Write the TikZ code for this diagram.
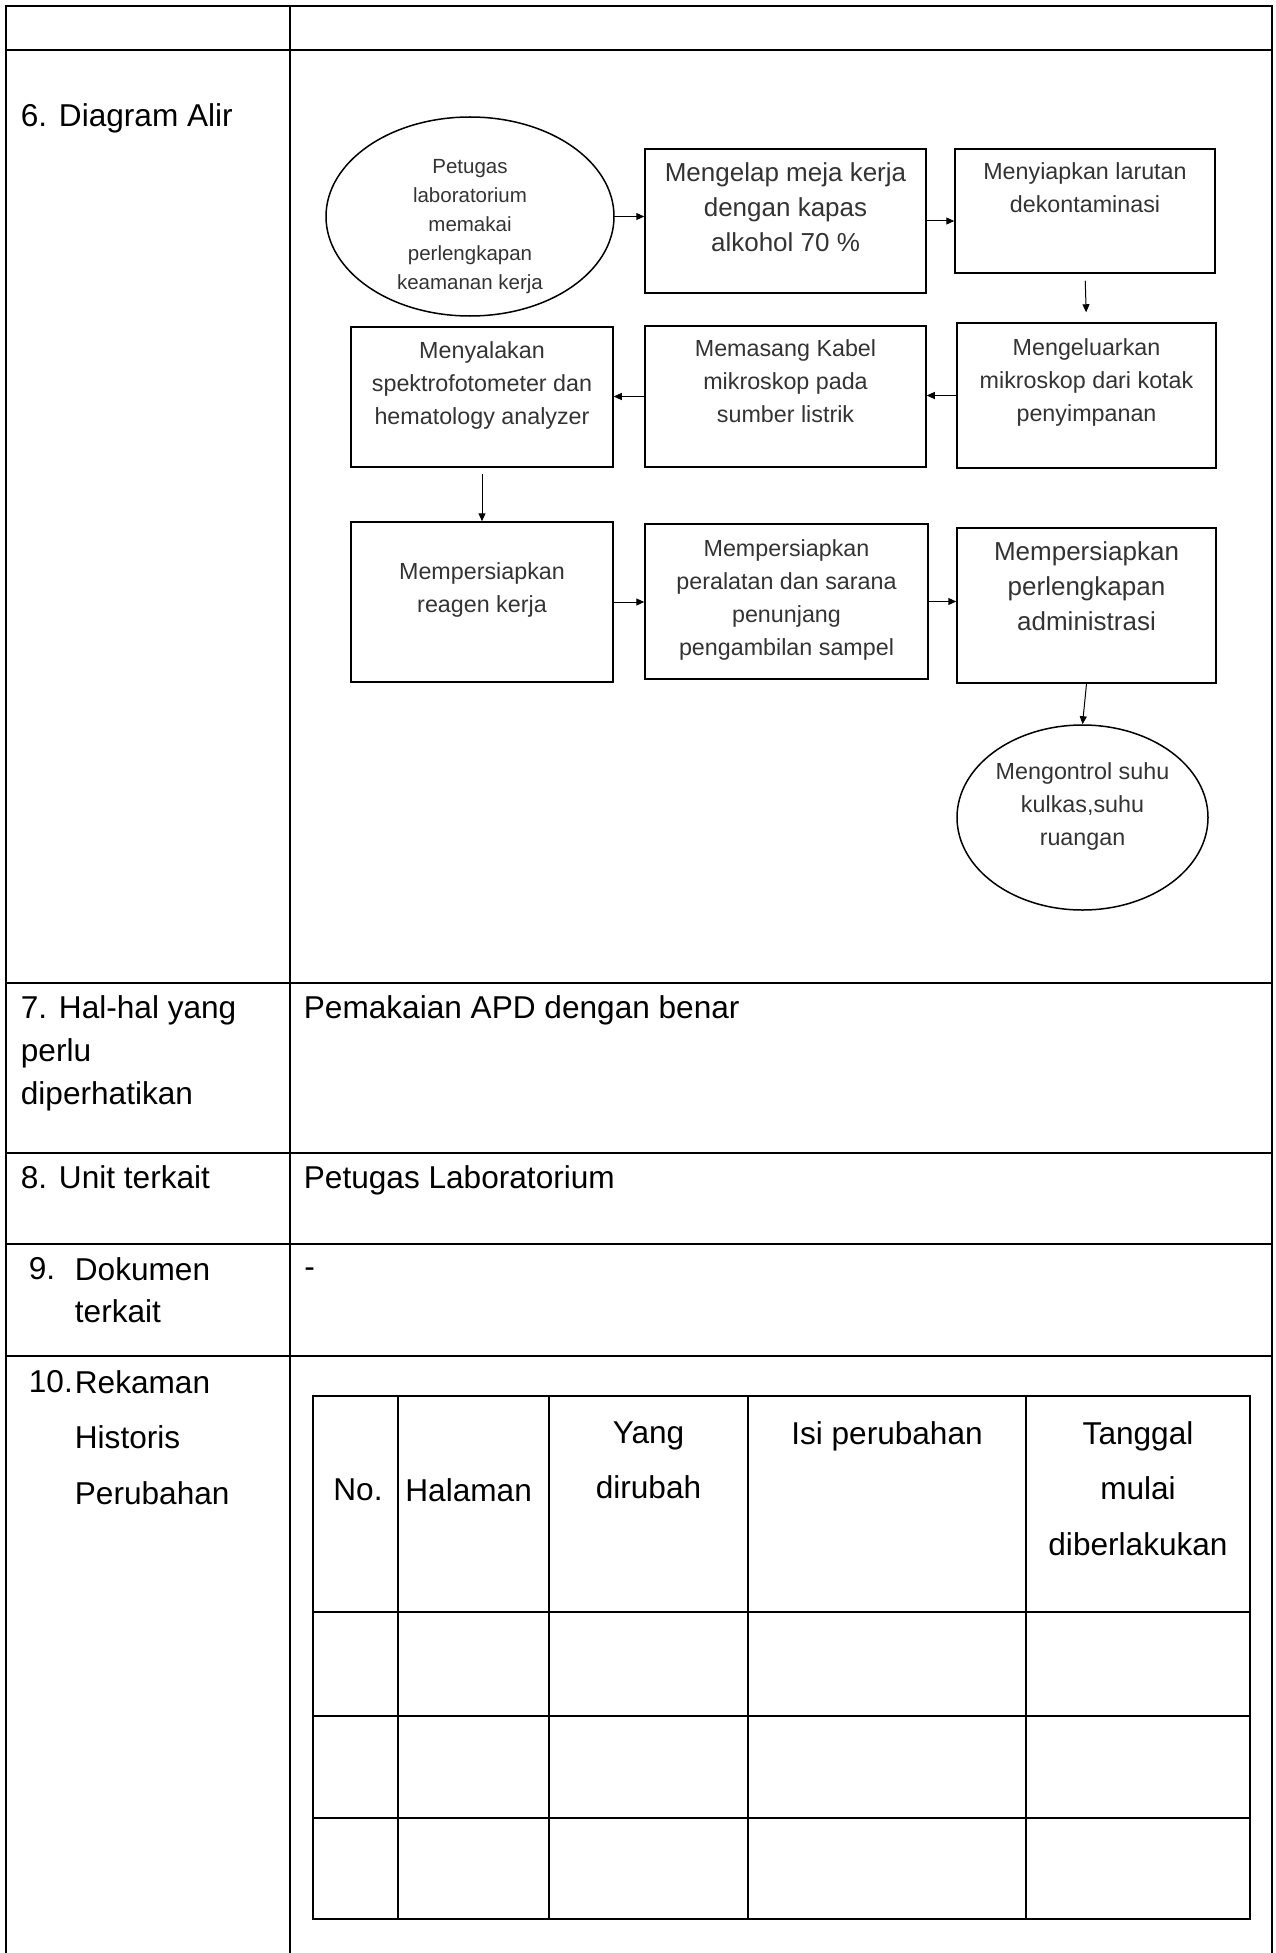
\documentclass[tikz,border=0pt]{standalone}
\usepackage{fontspec}
\setmainfont{Liberation Sans}
\usepackage{tikz}
\usetikzlibrary{arrows.meta,shapes.geometric,positioning}

\begin{document}
\begin{tikzpicture}[
    x=0.5pt, y=-0.5pt,
    tabline/.style={line width=1.1pt, line cap=rect},
    histline/.style={line width=1pt, line cap=rect},
    cell/.style={inner sep=0pt, anchor=north west, font=\fontsize{15.8pt}{21.5pt}\selectfont},
    hist/.style={cell, align=center, font=\fontsize{15.8pt}{27.75pt}\selectfont},
    box/.style={draw, line width=0.75pt, inner sep=0pt},
    oval/.style={draw, ellipse, line width=0.75pt, inner sep=0pt},
    txt/.style={align=center, text=black!80, inner sep=0pt, font=\fontsize{11.65pt}{16.5pt}\selectfont},
    bigtxt/.style={txt, font=\fontsize{13pt}{17.5pt}\selectfont},
    tinytxt/.style={txt, font=\fontsize{10.25pt}{14.5pt}\selectfont},
    flow/.style={line width=0.5pt, -{Triangle[length=4pt, width=3.5pt]}}
]
    \useasboundingbox (0,0) rectangle (1275,1953);
    % Table frame
    \foreach \y in {6,50,983,1153,1244,1356} {
        \draw[tabline] (6,\y) -- (1272,\y);
    }
    \foreach \x in {6,290,1272} {
        \draw[tabline] (\x,6) -- (\x,1960);
    }
    % Left column
    \node[cell] (l6) at (20.5,103) {6. Diagram Alir};
    \node[cell, align=left] (l7) at (20.5,995) {7. Hal-hal yang\\perlu\\diperhatikan};
    \node[cell] (l8) at (20.5,1165) {8. Unit terkait};
    \node[cell] (l9n) at (28.5,1257) {9.};
    \node[cell, align=left, font=\fontsize{15.8pt}{21pt}\selectfont] (l9) at (74.5,1257) {Dokumen\\terkait};
    \node[cell] (l10n) at (28.5,1370) {10.};
    \node[hist, align=left] (l10) at (74.5,1370) {Rekaman\\Historis\\Perubahan};
    % Right column
    \node[cell] (r7) at (303.5,995) {Pemakaian APD dengan benar};
    \node[cell] (r8) at (303.5,1165) {Petugas Laboratorium};
    \node[cell, anchor=base west] (r9) at (304,1277) {-};
    % History table
    \foreach \y in {1396,1612,1716,1818,1919} {
        \draw[histline] (313,\y) -- (1250,\y);
    }
    \foreach \x in {313,398,549,748,1026,1250} {
        \draw[histline] (\x,1396) -- (\x,1919);
    }
    \node[cell, anchor=center] (h1) at (358,1490) {No.};
    \node[cell, anchor=west] (h2) at (405,1490) {Halaman};
    \node[hist, anchor=north] (h3) at (648.5,1421) {Yang\\dirubah};
    \node[hist, anchor=north] (h4) at (887,1421) {Isi perubahan};
    \node[hist, anchor=north] (h5) at (1138,1421) {Tanggal\\mulai\\diberlakukan};
    % Flow chart
    \node[oval, minimum width=144pt, minimum height=99.5pt,
        label={[tinytxt, yshift=-5.25pt]center:{Petugas\\laboratorium\\memakai\\perlengkapan\\keamanan kerja}}] (b1) at (470,216.5) {};
    \node[box, minimum width=140.5pt, minimum height=72pt,
        label={[bigtxt, yshift=7pt]center:{Mengelap meja kerja\\dengan kapas\\alkohol 70 \%}}] (b2) at (785.5,221) {};
    \node[box, minimum width=130pt, minimum height=62pt,
        label={[txt, yshift=11.5pt]center:{Menyiapkan larutan\\dekontaminasi}}] (b3) at (1085,211) {};
    \node[box, minimum width=129.5pt, minimum height=72.5pt,
        label={[txt, yshift=6.5pt]center:{Mengeluarkan\\mikroskop dari kotak\\penyimpanan}}] (b4) at (1086.5,395.5) {};
    \node[box, minimum width=140.5pt, minimum height=70.5pt,
        label={[txt, yshift=7.75pt]center:{Memasang Kabel\\mikroskop pada\\sumber listrik}}] (b5) at (785.5,396.5) {};
    \node[box, minimum width=131pt, minimum height=70pt,
        label={[txt, yshift=5.75pt]center:{Menyalakan\\spektrofotometer dan\\hematology analyzer}}] (b6) at (482,397) {};
    \node[box, minimum width=131pt, minimum height=80pt,
        label={[txt, yshift=6pt]center:{Mempersiapkan\\reagen kerja}}] (b7) at (482,602) {};
    \node[box, minimum width=141.5pt, minimum height=77.5pt,
        label={[txt, yshift=1pt]center:{Mempersiapkan\\peralatan dan sarana\\penunjang\\pengambilan sampel}}] (b8) at (786.5,601.5) {};
    \node[box, minimum width=129.5pt, minimum height=77.5pt,
        label={[bigtxt, yshift=9.5pt]center:{Mempersiapkan\\perlengkapan\\administrasi}}] (b9) at (1086.5,605.5) {};
    \node[oval, minimum width=125.5pt, minimum height=92.5pt,
        label={[txt, yshift=5.75pt]center:{Mengontrol suhu\\kulkas,suhu\\ruangan}}] (b10) at (1082.5,817.5) {};
    % Arrows
    \foreach \a/\b in {b1/b2, b2/b3, b7/b8, b8/b9} {
        \draw[flow] (\a.east) -- (\a.east -| \b.west);
    }
    \foreach \a/\b in {b4/b5, b5/b6} {
        \draw[flow] (\a.west) -- (\a.west -| \b.east);
    }
    \draw[flow, shorten <=3.5pt, shorten >=5pt] (b3.south) -- (b4.north);
    \draw[flow, shorten <=3pt] (b6.south) -- (b7.north);
    \draw[flow] (b9.south) -- (b10.north);
\end{tikzpicture}
\end{document}
